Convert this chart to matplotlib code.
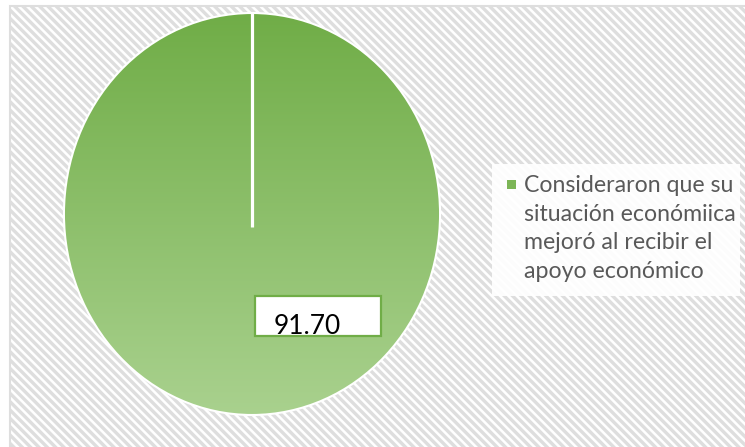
import numpy as np
import matplotlib.pyplot as plt
from matplotlib.patches import Rectangle, Circle
from matplotlib.colors import LinearSegmentedColormap

plt.rcParams['font.family'] = ['Lato', 'DejaVu Sans']
plt.rcParams['hatch.linewidth'] = 2.4

# data
values = [91.70]
value_labels = ["91.70"]
legend_lines = ["Consideraron que su", "situación económiica",
                "mejoró al recibir el", "apoyo económico"]
start_angle = 90

W, H = 745, 447
fig = plt.figure(figsize=(W / 100, H / 100), dpi=100)

# hatched chart area, in pixel coords
bg = fig.add_axes([0, 0, 1, 1])
bg.set_xlim(0, W)
bg.set_ylim(H, 0)
bg.axis("off")
bg.add_patch(Rectangle((10, 6), W + 50, H + 50, facecolor="white", edgecolor="#dedede",
                       hatch="\\\\\\\\", lw=1.5))

# pie with a top-to-bottom green gradient
ax = fig.add_axes([63 / W, 1 - 416 / H, 378 / W, 404 / H])
wedges, _ = ax.pie(values, startangle=start_angle, counterclock=False, radius=1,
                   wedgeprops=dict(facecolor="#7cb556", edgecolor="none"))
grad = np.linspace(0, 1, 256).reshape(-1, 1)
cmap = LinearSegmentedColormap.from_list("greens", ["#70ad47", "#a9d18e"])
img = ax.imshow(grad, cmap=cmap, extent=[-1, 1, -1, 1], origin="upper",
                aspect="auto", zorder=2)
img.set_clip_path(wedges[0])
ax.add_patch(Circle((0, 0), 1, facecolor="none", edgecolor="white", lw=1.5, zorder=3))
# slice border at the start angle, running slightly past the centre
a = np.deg2rad(start_angle)
ax.plot([-0.065 * np.cos(a), np.cos(a)], [-0.065 * np.sin(a), np.sin(a)],
        color="white", lw=2.3, zorder=3, solid_capstyle="butt")
ax.set_aspect("auto")
ax.set_xlim(-1.005, 1.005)
ax.set_ylim(-1.005, 1.005)
ax.axis("off")

# data label and legend on top
fg = fig.add_axes([0, 0, 1, 1], zorder=5)
fg.set_xlim(0, W)
fg.set_ylim(H, 0)
fg.axis("off")

fg.add_patch(Rectangle((255, 296), 126, 40, facecolor="white",
                       edgecolor="#70ad47", lw=1.6))
fg.text(274, 334, value_labels[0], fontsize=19, color="black", va="baseline")

fg.add_patch(Rectangle((492, 164), 248, 132, facecolor="white", edgecolor="none",
                       alpha=0.92))
fg.add_patch(Rectangle((507, 180), 9, 8.5, facecolor="#7cb556", edgecolor="none"))
for i, line in enumerate(legend_lines):
    fg.text(524, 192 + i * 28.7, line, fontsize=16.7, color="#595959", va="baseline")

fig.savefig("out.png", dpi=100)
